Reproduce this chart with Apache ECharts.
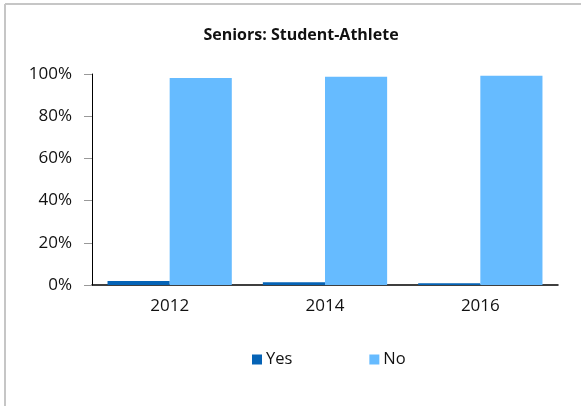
<!DOCTYPE html>
<html>
<head>
<meta charset="utf-8">
<script src="https://cdn.jsdelivr.net/npm/echarts@6/dist/echarts.min.js"></script>
<style>
  html, body { margin: 0; padding: 0; background: #fff; }
  #chart { width: 581px; height: 406px; }
</style>
</head>
<body>
<div id="chart"></div>
<script>
// data
var years = ['2012', '2014', '2016'];
var yesPct = [1.9, 1.3, 0.8];
var noPct = [98.1, 98.7, 99.2];
var yTicks = [0, 20, 40, 60, 80, 100];

var chart = echarts.init(document.getElementById('chart'));

var option = {
  animation: false,
  color: ['#0563B6', '#66BBFF'],
  textStyle: { fontFamily: 'Open Sans' },
  // light frame round the chart (top + left edges only are visible)
  graphic: [
    { type: 'line', shape: { x1: 5, y1: 4, x2: 581, y2: 4 }, style: { stroke: '#c6c6c6', lineWidth: 2 } },
    { type: 'line', shape: { x1: 5, y1: 4, x2: 5, y2: 406 }, style: { stroke: '#c6c6c6', lineWidth: 2 } }
  ],
  title: {
    text: 'Seniors: Student-Athlete',
    left: 296,
    textAlign: 'center',
    top: 22,
    textStyle: { fontSize: 16, fontWeight: 'bold', color: '#111', fontFamily: 'Open Sans' }
  },
  legend: {
    left: 247,
    top: 346,
    itemWidth: 10,
    itemHeight: 10,
    itemGap: 77,
    icon: 'rect',
    textStyle: { fontSize: 16.5, color: '#111', padding: [0, 0, 0, -1] },
    data: ['Yes', 'No']
  },
  grid: { left: 92, right: 23, top: 74, bottom: 121 },
  xAxis: {
    type: 'category',
    data: years,
    axisLine: { lineStyle: { color: '#000', width: 1.5 } },
    axisTick: { show: false },
    axisLabel: { fontSize: 17, color: '#111', margin: 13 }
  },
  yAxis: {
    type: 'value',
    min: 0,
    max: 100,
    interval: 20,
    axisLine: { show: true, lineStyle: { color: '#000' } },
    axisTick: { show: true, length: 8, lineStyle: { color: '#999' } },
    splitLine: { show: false },
    axisLabel: {
      fontSize: 17,
      color: '#111',
      margin: 20,
      formatter: function (v) { return yTicks.indexOf(v) >= 0 ? v + '%' : ''; }
    }
  },
  series: [
    { name: 'Yes', type: 'bar', data: yesPct, barGap: '0%', barCategoryGap: '20%' },
    { name: 'No', type: 'bar', data: noPct, barGap: '0%', barCategoryGap: '20%' }
  ]
};

chart.setOption(option);
</script>
</body>
</html>
